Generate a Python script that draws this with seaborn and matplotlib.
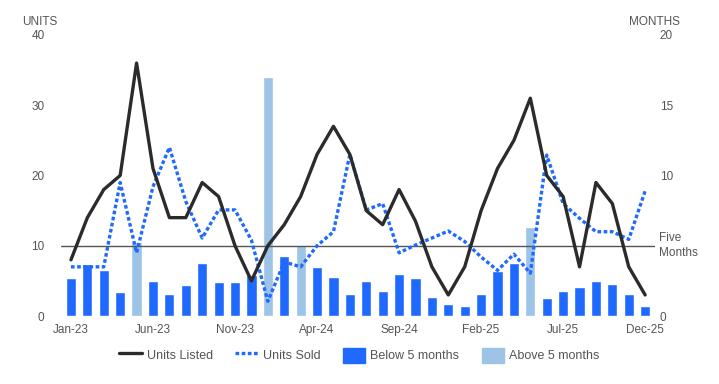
import numpy as np
import pandas as pd
import matplotlib.pyplot as plt
import seaborn as sns
from matplotlib.lines import Line2D
from matplotlib.patches import Patch

months = ['Jan-23', 'Feb-23', 'Mar-23', 'Apr-23', 'May-23', 'Jun-23', 'Jul-23', 'Aug-23', 'Sep-23', 'Oct-23', 'Nov-23', 'Dec-23',
          'Jan-24', 'Feb-24', 'Mar-24', 'Apr-24', 'May-24', 'Jun-24', 'Jul-24', 'Aug-24', 'Sep-24', 'Oct-24', 'Nov-24', 'Dec-24',
          'Jan-25', 'Feb-25', 'Mar-25', 'Apr-25', 'May-25', 'Jun-25', 'Jul-25', 'Aug-25', 'Sep-25', 'Oct-25', 'Nov-25', 'Dec-25']

units_listed = [8, 14, 18, 20, 36, 21, 14, 14, 19, 17, 10, 5,
                10, 13, 17, 23, 27, 23, 15, 13, 18, 13.5, 7, 3,
                7, 15, 21, 25, 31, 20, 17, 7, 19, 16, 7, 3]

units_sold = [7, 7, 7, 19, 9, 18.4, 24, 16.3, 11.1, 15.1, 15.1, 10.8,
              2.1, 7.7, 7, 10, 12, 23, 15.1, 16, 9, 10.1, 11.1, 12.1,
              10.6, 8.4, 6.5, 8.8, 6.1, 22.9, 16, 13.9, 12, 12, 10.9, 17.8]

months_supply = [2.7, 3.7, 3.3, 1.7, 5.3, 2.5, 1.6, 2.2, 3.8, 2.4, 2.4, 2.9,
                 17.0, 4.3, 5.05, 3.5, 2.8, 1.6, 2.5, 1.8, 3.0, 2.7, 1.35, 0.85,
                 0.7, 1.6, 3.2, 3.8, 6.3, 1.3, 1.8, 2.1, 2.5, 2.3, 1.6, 0.7]

dark_blue = '#1F69FF'
light_blue = '#9DC3E6'
text_grey = '#555555'

df = pd.DataFrame({'Month': months, 'idx': range(len(months)),
                   'Listed': units_listed, 'Sold': units_sold, 'Supply': months_supply})
df['Band'] = np.where(df['Supply'] > 5, 'Above 5 months', 'Below 5 months')

sns.set_style('white')
plt.rcParams['font.family'] = ['Liberation Sans', 'DejaVu Sans']

fig = plt.figure(figsize=(7.19, 3.84), dpi=100)
ax = fig.add_axes([0.085, 0.177, 0.826, 0.732])
ax2 = ax.twinx()

# bars (months of supply) on the right axis
sns.barplot(data=df, x='Month', y='Supply', hue='Band', dodge=False, width=0.62,
            palette={'Below 5 months': dark_blue, 'Above 5 months': light_blue},
            legend=False, ax=ax2, saturation=1)

# lines (units) on the left axis, drawn above the bars
ax.set_zorder(ax2.get_zorder() + 1)
ax.patch.set_visible(False)
sns.lineplot(data=df, x='idx', y='Sold', ax=ax, color=dark_blue, lw=2.4, zorder=3)
ax.lines[-1].set_dashes((1.1, 0.75))
sns.lineplot(data=df, x='idx', y='Listed', ax=ax, color='#2B2B2B', lw=2.4, zorder=4)
ax.axhline(10, color='#555555', lw=1, zorder=2)
ax.text(1.007, 10, 'Five\nMonths', transform=ax.get_yaxis_transform(), va='center', ha='left',
        fontsize=8.5, color=text_grey, linespacing=1.3)

ax.set_ylim(0, 40)
ax2.set_ylim(0, 20)
ax.set_xlim(-0.6, 35.6)
ax.set_yticks([0, 10, 20, 30, 40])
ax2.set_yticks([0, 10, 15, 20])
ax.set_xticks(range(0, 36, 5))
ax.set_xticklabels(months[::5])
for a in (ax, ax2):
    a.set_xlabel('')
    a.set_ylabel('')
    a.tick_params(length=0, labelsize=8.5, labelcolor=text_grey, pad=6)
    for s in a.spines.values():
        s.set_visible(False)
ax.tick_params(axis='y', pad=12)
ax2.tick_params(axis='y', pad=3.5)

fig.text(0.031, 0.944, 'UNITS', fontsize=8.5, color=text_grey, va='center')
fig.text(0.945, 0.944, 'MONTHS', fontsize=8.5, color=text_grey, va='center', ha='right')

handles = [Line2D([], [], color='#2B2B2B', lw=2.4),
           Line2D([], [], color=dark_blue, lw=2.4, dashes=(1.1, 0.75)),
           Patch(color=dark_blue), Patch(color=light_blue)]
labels = ['Units Listed', 'Units Sold', 'Below 5 months', 'Above 5 months']
leg = fig.legend(handles, labels, loc='center', bbox_to_anchor=(0.5, 0.075), ncol=4,
                 frameon=False, fontsize=9, handlelength=1.8, handleheight=1.5,
                 columnspacing=1.8, handletextpad=0.4)
for t in leg.get_texts():
    t.set_color(text_grey)

fig.savefig('out.png', dpi=100)
